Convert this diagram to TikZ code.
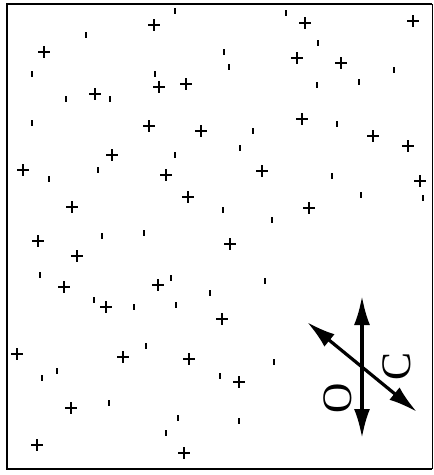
\documentclass[tikz,border=0pt]{standalone}
\usepackage{fontspec}
\setmainfont{Liberation Serif}
\usetikzlibrary{arrows.meta}

\begin{document}
\begin{tikzpicture}[x=1pt,y=-1pt,>={Latex[length=29pt,width=16pt]}]
  \tikzstyle{frame}=[line width=2.6pt]
  \tikzstyle{cross}=[line width=1.4pt]
  \tikzstyle{tick}=[line width=1.5pt]
  \tikzstyle{axis}=[<->,line width=3.2pt]
  \tikzstyle{axislabel}=[inner sep=0pt,rotate=90,font=\fontsize{42}{42}\selectfont]
  \useasboundingbox (0,0) rectangle (434,475);
  % frame
  \coordinate (nw) at (7,4);
  \coordinate (ne) at (432,4);
  \coordinate (sw) at (7,469);
  \coordinate (se) at (432,469);
  \draw[frame] (ne) -- (nw) -- (sw) -- (se);
  \draw[line width=1pt] (ne) -- (se);
  % crosses
  \foreach \x/\y in {154/25,305/23,413/21,44/52,297/58,341/63,95/94,159/87,186/84,
    149/126,201/131,302/119,373/136,408/146,112/155,23/170,166/175,262/171,420/181,
    72/207,188/197,309/208,38/241,77/256,230/244,64/287,158/285,106/307,222/319,
    17/354,123/357,189/359,239/382,71/408,37/445,184/453}
    \draw[cross] (\x-6,\y) -- (\x+6,\y) (\x,\y-6) -- (\x,\y+6);
  % ticks
  \foreach \x/\y in {175/11,86/35,32/74,155/74,66/99,110/99,32/123,175/155,286/13,
    318/43,224/52,229/67,394/70,317/85,359/82,337/124,253/131,240/148,98/170,49/179,
    102/236,144/233,40/275,171/278,210/293,94/300,134/307,176/305,332/176,361/195,
    423/198,223/210,272/220,265/281,146/346,57/371,42/378,109/403,178/418,166/433,
    274/362,220/376,239/421}
    \draw[tick] (\x,\y-3) -- (\x,\y+3);
  % axes
  \coordinate (otop) at (362,296);
  \coordinate (obot) at (362,438);
  \coordinate (cup) at (307,322);
  \coordinate (cdown) at (417,412);
  \draw[axis] (otop) -- (obot);
  \draw[axis] (cup) -- (cdown);
  \node[axislabel] (olabel) at (338,398) {O};
  \node[axislabel] (clabel) at (397,366) {C};
\end{tikzpicture}
\end{document}
